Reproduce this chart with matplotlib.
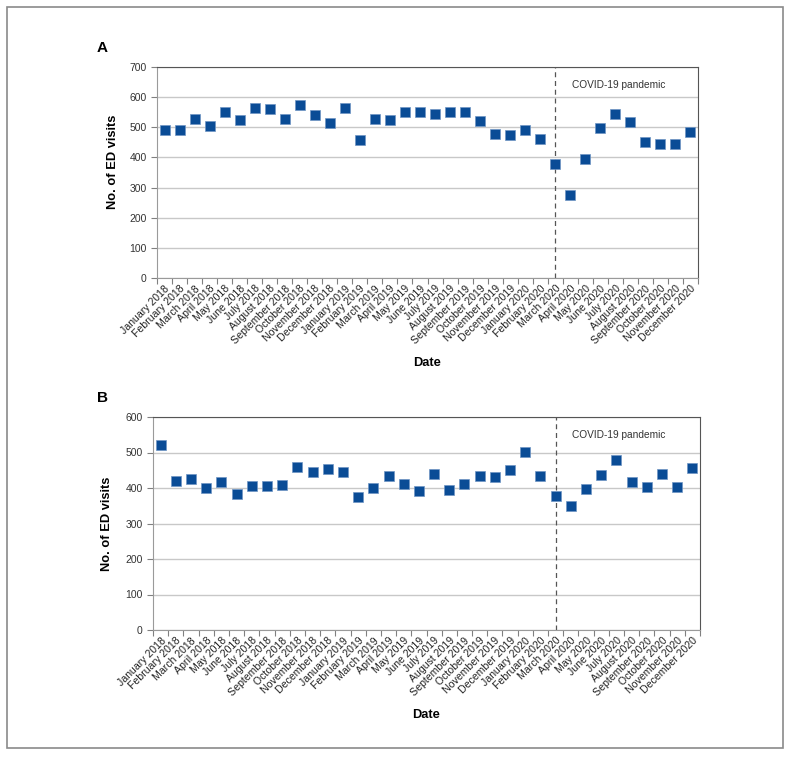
import matplotlib
matplotlib.use("Agg")
import matplotlib.pyplot as plt
from matplotlib.patches import Rectangle
from matplotlib.transforms import blended_transform_factory
import numpy as np

plt.rcParams['font.family'] = ['Liberation Sans', 'DejaVu Sans']

months = ['January', 'February', 'March', 'April', 'May', 'June', 'July',
          'August', 'September', 'October', 'November', 'December']
years = [2018, 2019, 2020]
labels = [f'{m} {y}' for y in years for m in months]

visits_a = [490, 490, 527, 505, 552, 523, 565, 561, 527, 573, 540, 513,
            563, 459, 527, 525, 550, 552, 543, 551, 552, 521, 477, 473,
            490, 461, 379, 275, 394, 496, 543, 519, 451, 444, 445, 485]
visits_b = [520, 419, 425, 399, 416, 382, 407, 407, 409, 459, 445, 454,
            444, 375, 400, 435, 410, 392, 439, 394, 411, 434, 431, 450,
            501, 434, 377, 348, 398, 436, 478, 416, 404, 439, 404, 456]

pandemic_start = 'March 2020'
note = 'COVID-19 pandemic'

W, H = 791, 757
fig = plt.figure(figsize=(W / 100, H / 100), dpi=100)

# outer frame
fig.patches.append(Rectangle((7 / W, 9 / H), 776 / W, 741 / H, transform=fig.transFigure,
                             fill=False, edgecolor='#8a8a8a', linewidth=1.2))

# letter, data, y max, plot box in pixels (l, t, r, b), y label position
panels = [
    ('A', visits_a, 700, [157, 67, 698, 278], (-0.070, 0.55)),
    ('B', visits_b, 600, [153, 417, 700, 630], (-0.073, 0.50)),
]

x = np.arange(len(labels))
start_idx = labels.index(pandemic_start)

for letter, vals, ymax, (l, t, r, b), ylab_pos in panels:
    ax = fig.add_axes([l / W, 1 - b / H, (r - l) / W, (b - t) / H])
    ax.plot(x, vals, linestyle='none', marker='s', markersize=6.5,
            color='#0a4c96', markeredgecolor='#6f95c4', markeredgewidth=0.5, zorder=3)
    ax.set_xlim(-0.5, len(labels) - 0.5)
    ax.set_ylim(0, ymax)
    ax.set_yticks(np.arange(0, ymax + 1, 100))
    ax.yaxis.grid(True, color='#c8c8c8', linewidth=1)
    ax.set_axisbelow(True)

    ax.set_xticks(x)
    ax.set_xticklabels(labels, rotation=45, ha='right', rotation_mode='anchor', fontsize=7.6, color='#222222')
    ax.tick_params(axis='x', which='major', length=0, pad=4)
    ax.set_xticks(np.arange(-0.5, len(labels)), minor=True)
    ax.tick_params(axis='x', which='minor', length=4, color='#808080', width=0.8)
    ax.tick_params(axis='y', length=4, color='#808080', width=0.8, labelsize=7.5, labelcolor='#333333')

    for s in ['left', 'bottom']:
        ax.spines[s].set_color('#9a9a9a')
    for s in ['top', 'right']:
        ax.spines[s].set_color('#555555')

    ax.axvline(start_idx, color='#555555', linestyle=(0, (4, 3)), linewidth=0.9, zorder=2)
    tr = blended_transform_factory(ax.transData, ax.transAxes)
    ax.text(start_idx + 1.1, 0.915, note, transform=tr, fontsize=7.3, color='#333333', va='center')

    ax.set_ylabel('No. of ED visits', fontsize=9.3, fontweight='bold')
    ax.yaxis.set_label_coords(*ylab_pos)
    ax.set_xlabel('Date', fontsize=9.3, fontweight='bold', labelpad=8)

    fig.text(97 / W, 1 - (t - 19) / H, letter, fontsize=11, fontweight='bold', va='center', ha='left')

fig.savefig('out.png', dpi=100)
